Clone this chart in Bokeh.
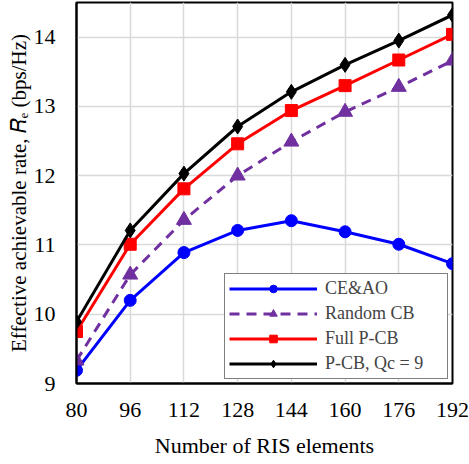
from bokeh.plotting import figure
from bokeh.models import Range1d, FixedTicker, Legend
from bokeh.embed import file_html
from bokeh.resources import INLINE

ris = [80, 96, 112, 128, 144, 160, 176, 192]
ce_ao = [9.19, 10.20, 10.89, 11.21, 11.35, 11.19, 11.01, 10.73]
random_cb = [9.33, 10.57, 11.36, 12.00, 12.49, 12.92, 13.28, 13.66]
full_pcb = [9.75, 11.01, 11.81, 12.46, 12.94, 13.30, 13.67, 14.04]
pcb_qc9 = [9.89, 11.21, 12.03, 12.71, 13.21, 13.60, 13.95, 14.32]
y_ticks = [9, 10, 11, 12, 13, 14]

FONT = "Liberation Serif"

p = figure(width=469, height=464, output_backend="svg", toolbar_location=None,
           x_range=Range1d(80, 192), y_range=Range1d(9, 14.5),
           min_border_left=76, min_border_right=17, min_border_top=2, min_border_bottom=81)

p.xaxis.ticker = FixedTicker(ticks=ris)
p.yaxis.ticker = FixedTicker(ticks=y_ticks)
p.xaxis.axis_label = "Number of RIS elements"
p.yaxis.axis_label = "Effective achievable rate, \U0001D445\u2091 (bps/Hz)"

for ax in (p.xaxis[0], p.yaxis[0]):
    ax.axis_label_text_font = FONT
    ax.axis_label_text_font_style = "normal"
    ax.axis_label_text_color = "black"
    ax.major_label_text_font = FONT
    ax.major_label_text_font_size = "22px"
    ax.major_label_text_color = "black"
    ax.major_tick_out = 0
    ax.major_tick_in = 0
    ax.minor_tick_out = 0
    ax.minor_tick_in = 0
    ax.axis_line_color = "black"
    ax.axis_line_width = 2
p.xaxis.axis_label_text_font_size = "22px"
p.yaxis.axis_label_text_font_size = "21px"
p.xaxis.major_label_standoff = 19
p.yaxis.major_label_standoff = 21
p.xaxis.axis_label_standoff = 13
p.yaxis.axis_label_standoff = 0

p.outline_line_color = "black"
p.outline_line_width = 2
p.xgrid.grid_line_color = "#d9d9d9"
p.ygrid.grid_line_color = "#d9d9d9"
p.xgrid.grid_line_width = 1.5
p.ygrid.grid_line_width = 1.5

series = [
    ("CE&AO", ce_ao, "#0000ff", "circle", 12, "solid"),
    ("Random CB", random_cb, "#7030a0", "triangle", 15, "10 7"),
    ("Full P-CB", full_pcb, "#ff0000", "square", 12, "solid"),
    ("P-CB, Qc = 9", pcb_qc9, "#000000", "diamond", 15, "solid"),
]
items = []
for name, ys, color, marker, size, dash in series:
    r1 = p.line(ris, ys, line_color=color, line_width=3, line_dash=dash)
    r2 = p.scatter(ris, ys, marker=marker, size=size, fill_color=color, line_color=color)
    items.append((name, [r1, r2]))

legend = Legend(items=items, location="bottom_right", margin=4,
                border_line_color="black", border_line_width=1.5,
                label_text_font=FONT, label_text_font_size="18px",
                glyph_width=88, glyph_height=19, label_height=19, label_width=118,
                spacing=4, padding=4, label_standoff=8,
                background_fill_alpha=1)
p.add_layout(legend, "center")

open("out.html", "w").write(file_html(p, INLINE))
